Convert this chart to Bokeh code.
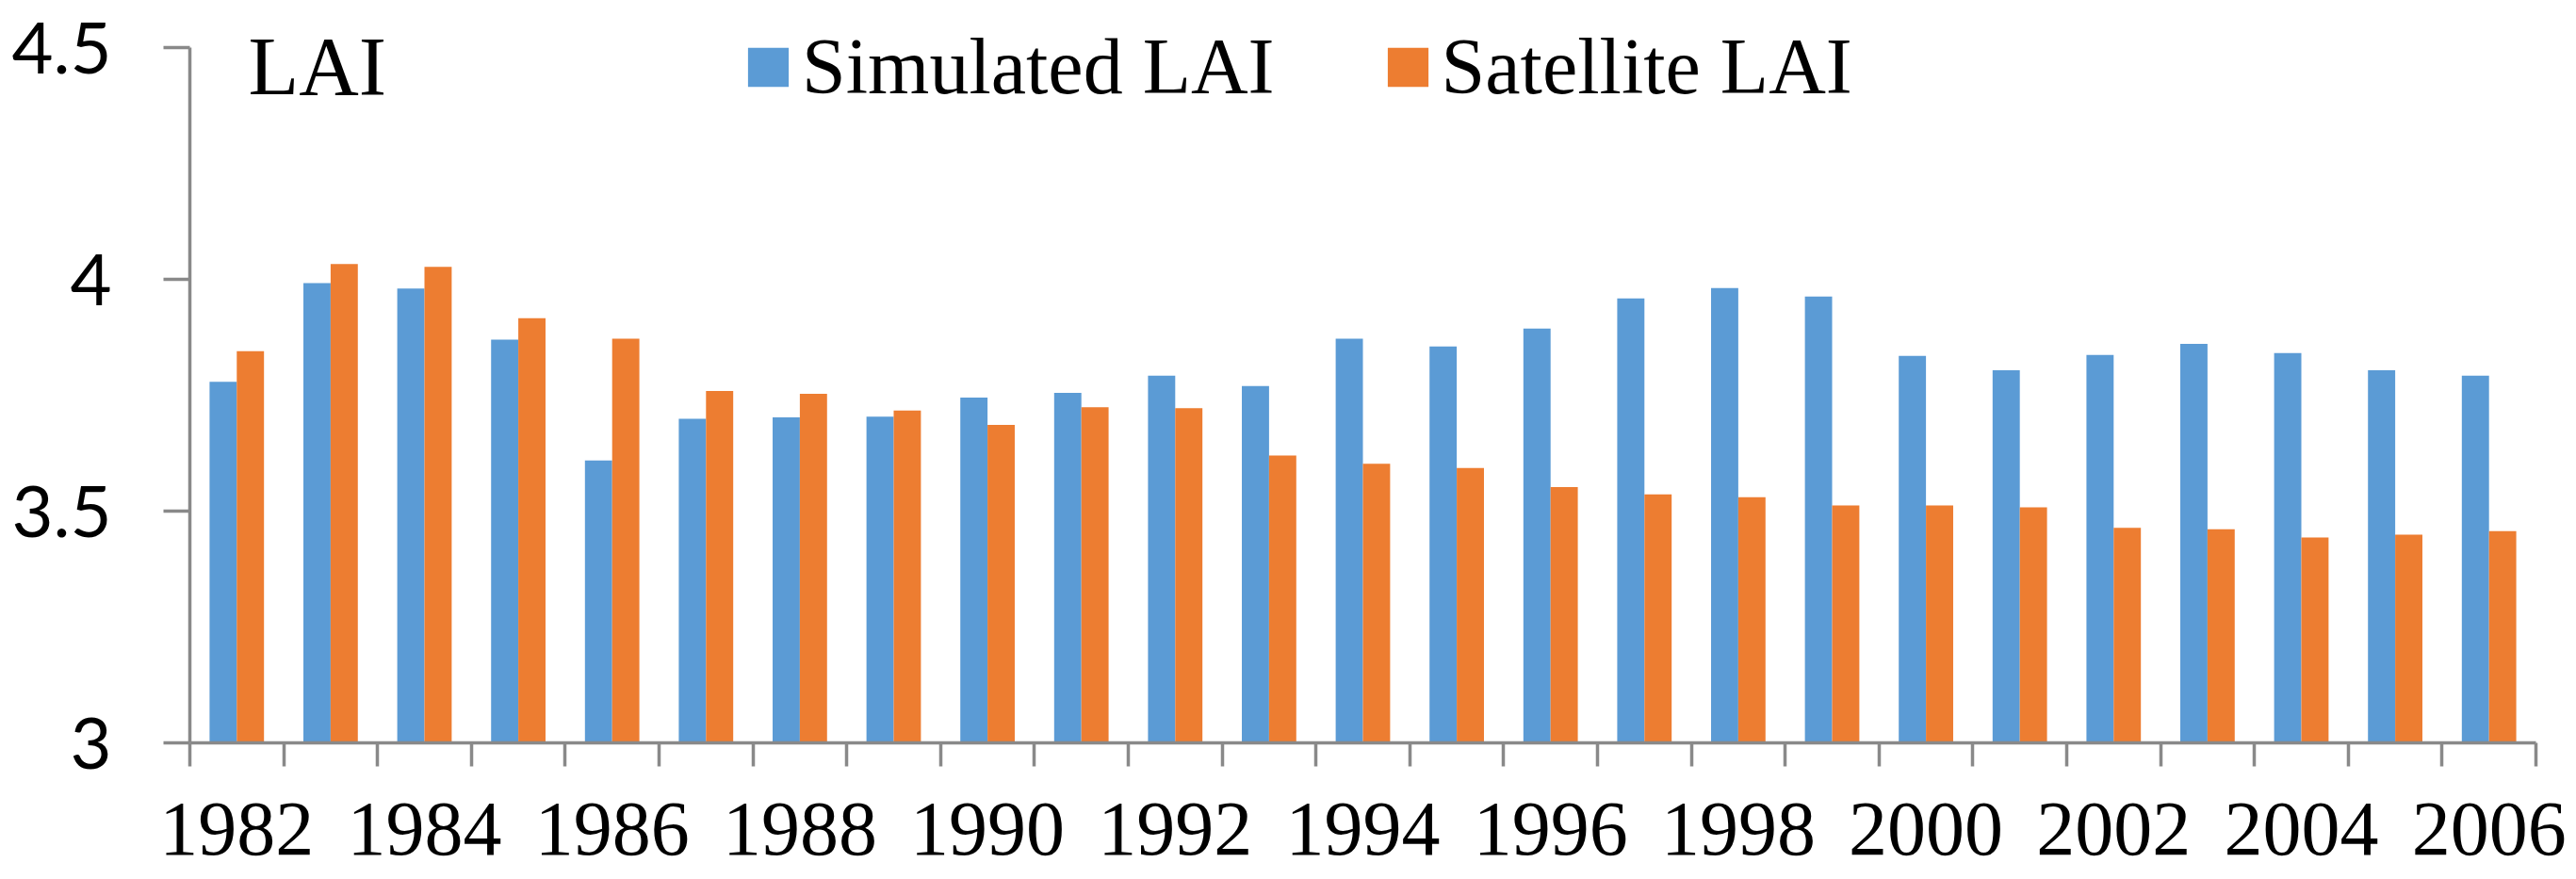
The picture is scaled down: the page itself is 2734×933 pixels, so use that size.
from bokeh.plotting import figure
from bokeh.models import (ColumnDataSource, FixedTicker, Legend, LegendItem,
                          Label, Range1d)
from bokeh.transform import dodge
from bokeh.embed import file_html
from bokeh.resources import INLINE

# LAI per year
years = list(range(1982, 2007))
simulated = [3.779, 3.992, 3.980, 3.870, 3.609, 3.699, 3.702, 3.704, 3.745,
             3.755, 3.792, 3.770, 3.872, 3.855, 3.894, 3.959, 3.981, 3.963,
             3.835, 3.804, 3.837, 3.861, 3.841, 3.804, 3.792]
satellite = [3.845, 4.033, 4.027, 3.916, 3.872, 3.759, 3.753, 3.717, 3.686,
             3.724, 3.722, 3.620, 3.602, 3.593, 3.552, 3.536, 3.530, 3.512,
             3.512, 3.508, 3.464, 3.461, 3.443, 3.449, 3.457]
year_labels = list(range(1982, 2007, 2))
y_ticks = [3, 3.5, 4, 4.5]

src = ColumnDataSource(data=dict(year=years, sim=simulated, sat=satellite))

# frame reaches the top of the canvas so the legend and "LAI" are not clipped;
# the y axis line itself stops at 4.5 (bounds)
p = figure(width=2726, height=925, output_backend="svg", toolbar_location=None,
           x_range=Range1d(1981.5, 2006.5), y_range=Range1d(3, 4.5935),
           min_border_left=201, min_border_right=35, min_border_top=4,
           min_border_bottom=137)
p.outline_line_color = None
p.grid.visible = False

r1 = p.vbar(x=dodge("year", -0.145, range=p.x_range), top="sim", bottom=3,
            width=0.29, source=src, fill_color="#5B9BD5", line_color=None)
r2 = p.vbar(x=dodge("year", 0.145, range=p.x_range), top="sat", bottom=3,
            width=0.29, source=src, fill_color="#ED7D31", line_color=None)

gray = "#898989"

# x axis: labels every 2 years, tick marks between categories
p.xaxis.ticker = FixedTicker(ticks=year_labels,
                             minor_ticks=[y - 0.5 for y in years] + [years[-1] + 0.5])
p.xaxis.axis_line_color = gray
p.xaxis.axis_line_width = 3.5
p.xaxis.major_tick_out = 0
p.xaxis.major_tick_in = 0
p.xaxis.minor_tick_out = 25
p.xaxis.minor_tick_in = 0
p.xaxis.minor_tick_line_color = gray
p.xaxis.minor_tick_line_width = 3.5
p.xaxis.major_label_standoff = 39
p.xaxis.major_label_text_font = "Liberation Serif"
p.xaxis.major_label_text_font_size = "82px"
p.xaxis.major_label_text_color = "black"

p.yaxis.ticker = FixedTicker(ticks=y_ticks)
p.yaxis.bounds = (3, 4.5)
p.yaxis.major_label_overrides = {3: "3", 3.5: "3.5", 4: "4", 4.5: "4.5"}
p.yaxis.axis_line_color = gray
p.yaxis.axis_line_width = 3.5
p.yaxis.major_tick_line_color = gray
p.yaxis.major_tick_line_width = 3.5
p.yaxis.major_tick_out = 28
p.yaxis.major_tick_in = 0
p.yaxis.minor_tick_line_color = None
p.yaxis.major_label_standoff = 55
p.yaxis.major_label_text_font = "Lato"
p.yaxis.major_label_text_font_size = "76px"
p.yaxis.major_label_text_color = "black"

legend = Legend(items=[LegendItem(label="Simulated LAI", renderers=[r1]),
                       LegendItem(label="Satellite LAI", renderers=[r2])],
                orientation="horizontal", location=(587, 669),
                label_text_font="Liberation Serif", label_text_font_size="84px",
                label_text_color="black",
                glyph_width=54, glyph_height=52, label_standoff=9, spacing=114,
                padding=0, margin=0, border_line_alpha=0,
                background_fill_alpha=0)
p.add_layout(legend)

p.add_layout(Label(x=62, y=718, x_units="screen", y_units="screen", text="LAI",
                   text_font="Liberation Serif", text_font_size="88px",
                   text_baseline="middle", text_color="black"))

open("out.html", "w").write(file_html(p, INLINE))
